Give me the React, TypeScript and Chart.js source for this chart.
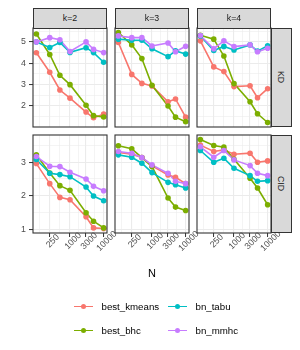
import React, { useEffect, useRef } from "react";
import { Chart, registerables } from "chart.js";

Chart.register(...registerables);

// ---------- data ----------
const N = [100, 250, 500, 1000, 3000, 5000, 10000];
const kLabels = ["k=2", "k=3", "k=4"];
const metricLabels = ["KD", "CID"];
const seriesNames = ["best_kmeans", "best_bhc", "bn_tabu", "bn_mmhc"];
const xBreaks = [250, 1000, 3000, 10000];
const kdBreaks = [2, 3, 4, 5];
const cidBreaks = [1, 2, 3];

// KD, one list per k (k=2, k=3, k=4)
const kmeansKD = [
  [4.49, 3.58, 2.75, 2.37, 1.72, 1.45, 1.62],
  [4.97, 3.48, 3.06, 2.94, 2.2, 2.33, 1.48],
  [5.05, 3.83, 3.61, 2.91, 2.95, 2.39, 2.81],
];
const bhcKD = [
  [5.37, 4.41, 3.44, 3.0, 2.04, 1.55, 1.49],
  [5.44, 4.86, 4.22, 2.97, 2.0, 1.48, 1.27],
  [5.31, 5.13, 4.34, 3.05, 2.2, 1.64, 1.23],
];
const tabuKD = [
  [5.0, 4.74, 4.97, 4.51, 4.73, 4.5, 4.05],
  [5.13, 5.08, 5.08, 4.68, 4.31, 4.58, 4.43],
  [5.28, 4.6, 4.79, 4.62, 4.86, 4.57, 4.82],
];
const mmhcKD = [
  [5.0, 5.2, 5.1, 4.55, 5.0, 4.65, 4.5],
  [5.28, 5.2, 5.2, 4.81, 4.95, 4.54, 4.8],
  [5.3, 4.68, 5.05, 4.78, 4.86, 4.54, 4.7],
];

// CID, one list per k (k=2, k=3, k=4)
const kmeansCID = [
  [2.96, 2.36, 1.95, 1.88, 1.37, 1.04, 1.02],
  [3.29, 3.24, 3.14, 2.89, 2.62, 2.55, 2.36],
  [3.51, 3.32, 3.37, 3.24, 3.27, 3.0, 3.04],
];
const bhcCID = [
  [3.22, 2.68, 2.3, 2.16, 1.49, 1.24, 1.04],
  [3.49, 3.4, 3.14, 2.87, 1.93, 1.66, 1.56],
  [3.68, 3.5, 3.45, 3.09, 2.52, 2.23, 1.73],
];
const tabuCID = [
  [3.08, 2.67, 2.63, 2.57, 2.26, 1.99, 1.85],
  [3.22, 3.15, 2.97, 2.69, 2.4, 2.33, 2.23],
  [3.35, 3.0, 3.12, 2.82, 2.6, 2.43, 2.45],
];
const mmhcCID = [
  [3.17, 2.88, 2.87, 2.7, 2.5, 2.28, 2.15],
  [3.32, 3.27, 3.14, 2.92, 2.67, 2.43, 2.36],
  [3.46, 3.15, 3.35, 3.07, 2.9, 2.67, 2.6],
];

// ---------- styles ----------
const COLORS = ["#F8766D", "#7CAE00", "#00BFC4", "#C77CFF"];
const FONT = '"Liberation Sans", Arial, Helvetica, sans-serif';
const FONT_CANVAS = "Liberation Sans";
const COL_LEFT = [33, 115, 197];
const PANEL_W = 74;
const ROW_TOP = [28, 135];
const ROW_H = [99, 98];
const M = 16;
const Y_AXIS_W = 21;
const X_AXIS_H = 30;

const rowSeries = [
  [kmeansKD, bhcKD, tabuKD, mmhcKD],
  [kmeansCID, bhcCID, tabuCID, mmhcCID],
];
const rowBreaks = [kdBreaks, cidBreaks];

function expandRange(lo: number, hi: number): [number, number] {
  const d = (hi - lo) * 0.05;
  return [lo - d, hi + d];
}

function rowLimits(r: number): [number, number] {
  const all = rowSeries[r].flat(2) as number[];
  return expandRange(Math.min(...all), Math.max(...all));
}

function minorBreaks(breaks: number[], lo: number, hi: number): number[] {
  const bd = breaks[1] - breaks[0];
  const b = [breaks[0] - bd, ...breaks, breaks[breaks.length - 1] + bd];
  const out: number[] = [];
  for (let i = 0; i < b.length - 1; i++) out.push((b[i] + b[i + 1]) / 2);
  return out.filter((v) => v > lo && v < hi);
}

const logN = N.map((n) => Math.log10(n));
const xLogLim = expandRange(Math.min(...logN), Math.max(...logN));
const xMin = Math.pow(10, xLogLim[0]);
const xMax = Math.pow(10, xLogLim[1]);
const xBreakLogs = xBreaks.map((b) => Math.log10(b));
const xMinorVals = minorBreaks(xBreakLogs, xLogLim[0], xLogLim[1]).map((v) => Math.pow(10, v));

function isIn(v: number, arr: number[]) {
  return arr.some((b) => Math.abs(b - v) <= 1e-6 * Math.max(1, Math.abs(b)));
}

const borderPlugin = {
  id: "panelBorder",
  afterDraw(chart: any) {
    const { ctx, chartArea: a } = chart;
    ctx.save();
    ctx.strokeStyle = "#333333";
    ctx.lineWidth = 1.1;
    ctx.strokeRect(a.left, a.top, a.right - a.left, a.bottom - a.top);
    ctx.restore();
  },
};

const xLabelPlugin = {
  id: "xTickLabels",
  afterDraw(chart: any) {
    const s = chart.scales.x;
    const ctx = chart.ctx;
    ctx.save();
    ctx.font = `8.8px "${FONT_CANVAS}"`;
    ctx.fillStyle = "#4d4d4d";
    ctx.textAlign = "center";
    ctx.textBaseline = "top";
    for (const b of xBreaks) {
      const px = s.getPixelForValue(b);
      ctx.save();
      ctx.translate(px, s.top + 5);
      ctx.rotate(-Math.PI / 4);
      ctx.fillText(String(b), 0, 0);
      ctx.restore();
    }
    ctx.restore();
  },
};

function Panel({ r, c }: { r: number; c: number }) {
  const ref = useRef<HTMLCanvasElement>(null);
  const yW = c === 0 ? Y_AXIS_W : 0;
  const xH = r === 1 ? X_AXIS_H : 0;
  const cw = M + yW + PANEL_W + M;
  const ch = M + ROW_H[r] + xH + M;
  const left = COL_LEFT[c] - M - yW;
  const top = ROW_TOP[r] - M;

  useEffect(() => {
    const [yMin, yMax] = rowLimits(r);
    const yMaj = rowBreaks[r];
    const yMinor = minorBreaks(yMaj, yMin, yMax);
    const yTicks = [...yMaj, ...yMinor].sort((a, b) => a - b);
    const xTicks = [...xBreaks, ...xMinorVals].sort((a, b) => a - b);
    const series = rowSeries[r];

    const lineSets = series.map((s, i) => ({
      label: seriesNames[i],
      data: N.map((n, j) => ({ x: n, y: s[c][j] })),
      borderColor: COLORS[i],
      backgroundColor: COLORS[i],
      borderWidth: 1.6,
      pointRadius: 0,
      tension: 0,
      order: 8 - i,
    }));
    const pointSets = series.map((s, i) => ({
      label: seriesNames[i] + "_pts",
      data: N.map((n, j) => ({ x: n, y: s[c][j] })),
      borderColor: COLORS[i],
      backgroundColor: COLORS[i],
      showLine: false,
      pointRadius: 2.8,
      pointBorderWidth: 0,
      pointHoverRadius: 2.8,
      order: 4 - i,
    }));

    const chart = new Chart(ref.current as HTMLCanvasElement, {
      type: "line",
      data: { datasets: [...lineSets, ...pointSets] as any },
      options: {
        animation: false,
        responsive: false,
        devicePixelRatio: 1,
        events: [],
        layout: { padding: { left: M, right: M, top: M, bottom: M } },
        plugins: { legend: { display: false }, tooltip: { enabled: false } },
        scales: {
          x: {
            type: "logarithmic",
            min: xMin,
            max: xMax,
            afterBuildTicks: (s: any) => {
              s.ticks = xTicks.map((v) => ({ value: v }));
            },
            afterFit: (s: any) => {
              s.height = xH;
            },
            ticks: { display: false, autoSkip: false },
            border: { display: false },
            grid: {
              drawTicks: r === 1,
              tickLength: 4,
              color: "#ebebeb",
              lineWidth: (ctx: any) =>
                ctx.tick && isIn(ctx.tick.value, xBreaks) ? 1.1 : 0.55,
              tickColor: (ctx: any) =>
                ctx.tick && isIn(ctx.tick.value, xBreaks) ? "#333333" : "rgba(0,0,0,0)",
              tickWidth: 1,
            },
          },
          y: {
            type: "linear",
            min: yMin,
            max: yMax,
            afterBuildTicks: (s: any) => {
              s.ticks = yTicks.map((v) => ({ value: v }));
            },
            afterFit: (s: any) => {
              s.width = yW;
            },
            ticks: {
              display: c === 0,
              autoSkip: false,
              padding: 3,
              color: "#4d4d4d",
              font: { family: FONT_CANVAS, size: 8.8 },
              callback: (v: any) => (isIn(Number(v), yMaj) ? String(v) : ""),
            },
            border: { display: false },
            grid: {
              drawTicks: c === 0,
              tickLength: 4,
              color: "#ebebeb",
              lineWidth: (ctx: any) =>
                ctx.tick && isIn(ctx.tick.value, yMaj) ? 1.1 : 0.55,
              tickColor: (ctx: any) =>
                ctx.tick && isIn(ctx.tick.value, yMaj) ? "#333333" : "rgba(0,0,0,0)",
              tickWidth: 1,
            },
          },
        },
      } as any,
      plugins: r === 1 ? [borderPlugin, xLabelPlugin] : [borderPlugin],
    });
    return () => chart.destroy();
  }, [r, c]);

  return (
    <canvas
      ref={ref}
      width={cw}
      height={ch}
      style={{ position: "absolute", left, top, width: cw, height: ch, display: "block" }}
    />
  );
}

const stripStyle: React.CSSProperties = {
  position: "absolute",
  boxSizing: "border-box",
  background: "#d9d9d9",
  border: "1px solid #333333",
  display: "flex",
  alignItems: "center",
  justifyContent: "center",
  fontFamily: FONT,
  fontSize: 8.8,
  color: "#1a1a1a",
  lineHeight: 1,
};

export default function App() {
  const panels: React.ReactNode[] = [];
  for (let r = 0; r < 2; r++)
    for (let c = 0; c < 3; c++) panels.push(<Panel key={`${r}-${c}`} r={r} c={c} />);

  const keyX = [74, 168];
  const labelX = [101.5, 195.5];
  const rowY = [306.5, 330.5];

  return (
    <div
      style={{
        position: "absolute",
        left: 0,
        top: 0,
        width: 300,
        height: 350,
        background: "#ffffff",
        overflow: "hidden",
        fontFamily: FONT,
      }}
    >
      {panels}
      {kLabels.map((k, c) => (
        <div
          key={k}
          style={{ ...stripStyle, left: COL_LEFT[c], top: 7.5, width: PANEL_W, height: ROW_TOP[0] - 7.5 + 0.5 }}
        >
          {k}
        </div>
      ))}
      {metricLabels.map((m, r) => (
        <div
          key={m}
          style={{
            ...stripStyle,
            left: COL_LEFT[2] + PANEL_W - 0.5,
            top: ROW_TOP[r],
            width: 21,
            height: ROW_H[r],
            writingMode: "vertical-rl",
          }}
        >
          {m}
        </div>
      ))}
      <div
        style={{
          position: "absolute",
          left: 152,
          top: 273,
          transform: "translate(-50%, -50%)",
          fontSize: 11,
          color: "#000",
          lineHeight: 1,
        }}
      >
        N
      </div>
      {seriesNames.map((name, i) => {
        const col = Math.floor(i / 2);
        const row = i % 2;
        return (
          <React.Fragment key={name}>
            <div
              style={{
                position: "absolute",
                left: keyX[col],
                top: rowY[row] - 0.7,
                width: 19,
                height: 1.4,
                background: COLORS[i],
              }}
            />
            <div
              style={{
                position: "absolute",
                left: keyX[col] + 9.5 - 2.8,
                top: rowY[row] - 2.8,
                width: 5.6,
                height: 5.6,
                borderRadius: "50%",
                background: COLORS[i],
              }}
            />
            <div
              style={{
                position: "absolute",
                left: labelX[col],
                top: rowY[row],
                transform: "translateY(-50%)",
                fontSize: 9.7,
                lineHeight: 1,
                color: "#000",
                whiteSpace: "nowrap",
              }}
            >
              {name}
            </div>
          </React.Fragment>
        );
      })}
    </div>
  );
}
